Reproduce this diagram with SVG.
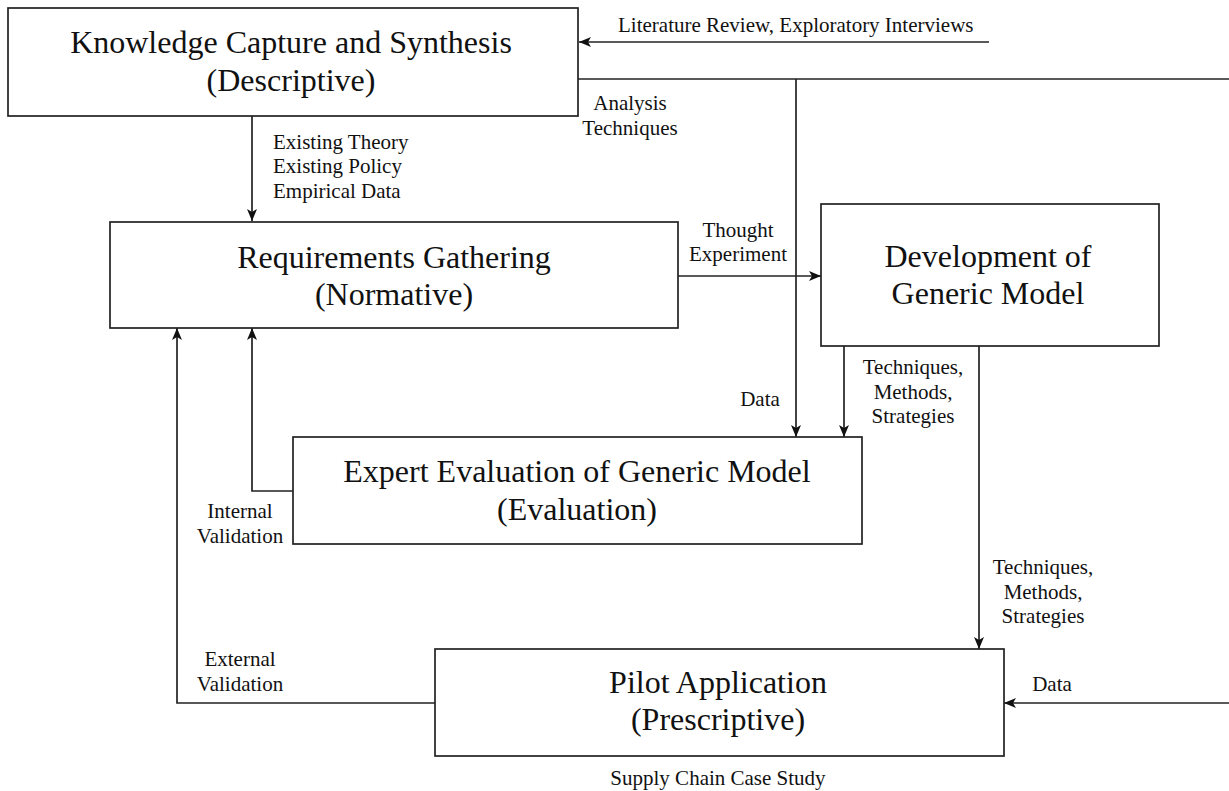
<svg xmlns="http://www.w3.org/2000/svg" width="1229" height="791" viewBox="0 0 1229 791">
  <style>
    .box { fill: #ffffff; stroke: #222222; stroke-width: 1.7; }
    .title { font-family: "Liberation Serif", "Times New Roman", serif; font-size: 32px; fill: #111111; text-anchor: middle; }
    .label { font-family: "Liberation Serif", "Times New Roman", serif; font-size: 21px; fill: #111111; }
    .mid { text-anchor: middle; }
    .conn { fill: none; stroke: #222222; stroke-width: 1.7; }
    .arrow { marker-end: url(#head); }
  </style>
  <defs>
    <marker id="head" viewBox="0 0 12 10" refX="12" refY="5" markerWidth="12" markerHeight="10" markerUnits="userSpaceOnUse" orient="auto">
      <path d="M0,0 L12,5 L0,10 L3,5 z" fill="#111111"/>
    </marker>
  </defs>
  <rect width="1229" height="791" fill="#ffffff"/>

  <!-- connectors -->
  <g id="connectors">
    <path class="conn arrow" d="M989,42 H579"/>
    <path class="conn" d="M578,79 H1229"/>
    <path class="conn arrow" d="M796,79 V437"/>
    <path class="conn arrow" d="M252,116 V221"/>
    <path class="conn arrow" d="M678,276 H821"/>
    <path class="conn arrow" d="M844,346 V437"/>
    <path class="conn arrow" d="M979,346 V649"/>
    <path class="conn arrow" d="M293,491 H252 V328"/>
    <path class="conn arrow" d="M435,703 H177 V328"/>
    <path class="conn arrow" d="M1229,703 H1004"/>

    <text class="label" x="618" y="32">Literature Review, Exploratory Interviews</text>
    <text class="label mid" x="630" y="110">Analysis</text>
    <text class="label mid" x="630" y="135">Techniques</text>
    <text class="label" x="273" y="149">Existing Theory</text>
    <text class="label" x="273" y="173">Existing Policy</text>
    <text class="label" x="273" y="198">Empirical Data</text>
    <text class="label mid" x="738" y="237">Thought</text>
    <text class="label mid" x="738" y="261">Experiment</text>
    <text class="label mid" x="760" y="406">Data</text>
    <text class="label mid" x="913" y="374">Techniques,</text>
    <text class="label mid" x="913" y="399">Methods,</text>
    <text class="label mid" x="913" y="423">Strategies</text>
    <text class="label mid" x="1043" y="574">Techniques,</text>
    <text class="label mid" x="1043" y="599">Methods,</text>
    <text class="label mid" x="1043" y="623">Strategies</text>
    <text class="label mid" x="240" y="518">Internal</text>
    <text class="label mid" x="240" y="543">Validation</text>
    <text class="label mid" x="240" y="666">External</text>
    <text class="label mid" x="240" y="691">Validation</text>
    <text class="label mid" x="1052" y="691">Data</text>
  </g>

  <!-- process steps -->
  <g id="knowledge-capture">
    <rect class="box" x="8" y="8" width="570" height="108"/>
    <text class="title" x="291" y="53">Knowledge Capture and Synthesis</text>
    <text class="title" x="291" y="91">(Descriptive)</text>
  </g>

  <g id="requirements-gathering">
    <rect class="box" x="110" y="222" width="568" height="106"/>
    <text class="title" x="394" y="268">Requirements Gathering</text>
    <text class="title" x="394" y="305">(Normative)</text>
  </g>

  <g id="generic-model">
    <rect class="box" x="821" y="204" width="338" height="142"/>
    <text class="title" x="988" y="267">Development of</text>
    <text class="title" x="988" y="304">Generic Model</text>
  </g>

  <g id="expert-evaluation">
    <rect class="box" x="293" y="437" width="569" height="107"/>
    <text class="title" x="577" y="482">Expert Evaluation of Generic Model</text>
    <text class="title" x="577" y="520">(Evaluation)</text>
  </g>

  <g id="pilot-application">
    <rect class="box" x="435" y="649" width="569" height="107"/>
    <text class="title" x="718" y="693">Pilot Application</text>
    <text class="title" x="718" y="730">(Prescriptive)</text>
    <text class="label mid" x="718" y="785">Supply Chain Case Study</text>
  </g>
</svg>
